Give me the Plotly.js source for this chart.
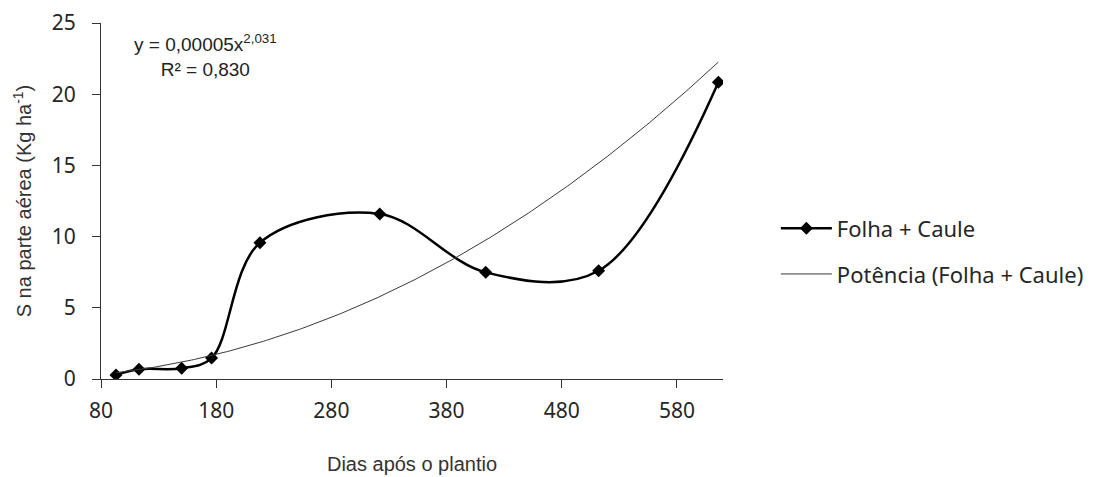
<!DOCTYPE html>
<html>
<head>
<meta charset="utf-8">
<script src="https://cdn.plot.ly/plotly-3.0.1.min.js"></script>
<style>
html,body{margin:0;padding:0;background:#fff;}
#chart{width:1101px;height:477px;}
</style>
</head>
<body>
<div id="chart"></div>
<script>
// Data
const dias = [93, 113, 150, 176, 218, 322, 414, 512, 616];
const folhaCaule = [0.28, 0.68, 0.75, 1.47, 9.57, 11.59, 7.49, 7.60, 20.84];
const xTicks = [80, 180, 280, 380, 480, 580];
const yTicks = [0, 5, 10, 15, 20, 25];
const seriesName = 'Folha + Caule';
const trendName = 'Potência (Folha + Caule)';
const equationText = 'y = 0,00005x<sup>2,031</sup><br>R² = 0,830';

// Power trendline (least squares in log-log space), as in the spreadsheet trendline
const lx = dias.map(Math.log), ly = folhaCaule.map(Math.log);
const n = lx.length;
const mx = lx.reduce((a,b)=>a+b,0)/n, my = ly.reduce((a,b)=>a+b,0)/n;
let sxy = 0, sxx = 0;
for (let i=0;i<n;i++){ sxy += (lx[i]-mx)*(ly[i]-my); sxx += (lx[i]-mx)*(lx[i]-mx); }
const b = sxy/sxx, a = Math.exp(my - b*mx);
const xMin = Math.min(...dias), xMax = Math.max(...dias);
const trendX = [], trendY = [];
for (let i=0;i<=200;i++){ const x = xMin + (xMax-xMin)*i/200; trendX.push(x); trendY.push(a*Math.pow(x,b)); }

const traces = [
  {
    x: dias, y: folhaCaule, name: seriesName, type: 'scatter', mode: 'lines+markers',
    line: {color: '#000000', width: 2.5, shape: 'spline', smoothing: 1},
    marker: {symbol: 'diamond', size: 10, color: '#000000'},
    legendgroup: 'a'
  },
  {
    x: trendX, y: trendY, name: trendName, type: 'scatter', mode: 'lines',
    line: {color: '#3a3a3a', width: 1},
    legendgroup: 'b'
  }
];

const layout = {
  width: 1101, height: 477,
  margin: {l: 101, r: 378, t: 23, b: 98},
  paper_bgcolor: '#ffffff', plot_bgcolor: '#ffffff',
  showlegend: true,
  legend: {
    x: 1.085, xanchor: 'left', y: 0.358, yanchor: 'middle',
    font: {family: 'Noto Sans', size: 22, color: '#262626'},
    itemwidth: 51, tracegroupgap: 14, traceorder: 'grouped',
    bgcolor: 'rgba(0,0,0,0)'
  },
  xaxis: {
    range: [80, 620], tickvals: xTicks, ticktext: xTicks.map(String),
    showgrid: false, zeroline: false, showline: true, linecolor: '#333', linewidth: 1,
    ticks: 'outside', ticklen: 8, tickcolor: '#333', tickwidth: 1,
    ticklabelstandoff: 5,
    tickfont: {family: 'Noto Sans', size: 21, color: '#262626'},
    title: {text: 'Dias após o plantio', font: {family: 'Liberation Sans', size: 20, color: '#333'}, standoff: 33}
  },
  yaxis: {
    range: [0, 25], tickvals: yTicks, ticktext: yTicks.map(String),
    showgrid: false, zeroline: false, showline: true, linecolor: '#333', linewidth: 1,
    ticks: 'outside', ticklen: 8, tickcolor: '#333', tickwidth: 1,
    ticklabelstandoff: 12,
    tickfont: {family: 'Noto Sans', size: 21, color: '#262626'},
    title: {text: 'S na parte aérea (Kg ha<sup>-1</sup>)', font: {family: 'Liberation Sans', size: 20, color: '#333'}, standoff: 14}
  },
  annotations: [{
    xref: 'paper', yref: 'paper',
    x: (205 - 101) / 622, y: (379 - 56) / 356,
    xanchor: 'center', yanchor: 'middle', align: 'center', showarrow: false,
    text: equationText,
    font: {family: 'Liberation Sans', size: 19, color: '#222'}
  }]
};

Plotly.newPlot('chart', traces, layout, {displayModeBar: false, staticPlot: true});
</script>
</body>
</html>
